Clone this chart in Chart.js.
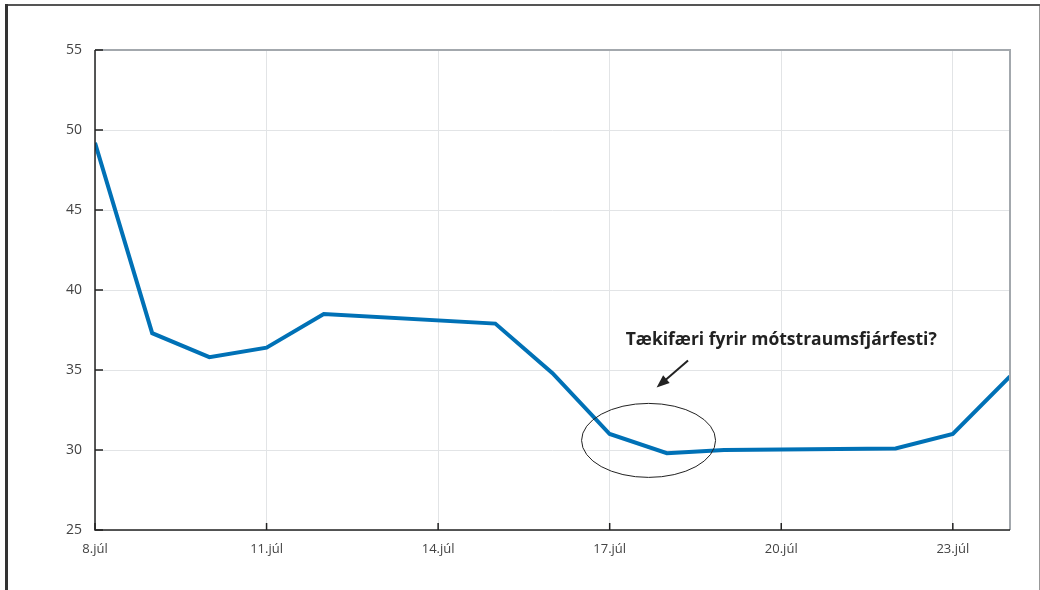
<!DOCTYPE html>
<html>
<head>
<meta charset="utf-8">
<script src="https://cdn.jsdelivr.net/npm/chart.js@4"></script>
<style>
  html, body { margin: 0; padding: 0; background: #fff; }
  #wrap { width: 1040px; height: 590px; position: relative; }
</style>
</head>
<body>
<div id="wrap"><canvas id="chart" width="1040" height="590"></canvas></div>
<script>
const days = [8, 9, 10, 11, 12, 15, 16, 17, 18, 19, 22, 23, 24];
const values = [49.2, 37.3, 35.8, 36.4, 38.5, 37.9, 34.8, 31.0, 29.8, 30.0, 30.1, 31.0, 34.6];
const xTicks = [8, 11, 14, 17, 20, 23];
const xTickLabels = ["8.júl", "11.júl", "14.júl", "17.júl", "20.júl", "23.júl"];
const noteText = "Tækifæri fyrir mótstraumsfjárfesti?";

const extras = {
    id: "extras",
    beforeDraw(chart) {
        const ctx = chart.ctx;
        ctx.save();
        ctx.fillStyle = "#fff";
        ctx.fillRect(0, 0, chart.width, chart.height);
        // outer frame
        ctx.strokeStyle = "#555";
        ctx.lineWidth = 2;
        ctx.beginPath();
        ctx.moveTo(6, 5); ctx.lineTo(1040, 5);
        ctx.stroke();
        ctx.strokeStyle = "#333";
        ctx.lineWidth = 3;
        ctx.beginPath();
        ctx.moveTo(6.5, 4); ctx.lineTo(6.5, 590);
        ctx.stroke();
        ctx.strokeStyle = "#999";
        ctx.lineWidth = 1;
        ctx.beginPath();
        ctx.moveTo(1039.5, 6); ctx.lineTo(1039.5, 590);
        ctx.stroke();
        ctx.restore();
    },
    afterDatasetsDraw(chart) {
        const ctx = chart.ctx;
        const a = chart.chartArea;
        const xs = chart.scales.x, ys = chart.scales.y;
        ctx.save();
        // top and right border of the plot
        ctx.strokeStyle = "#a3a8ad";
        ctx.lineWidth = 2;
        ctx.beginPath();
        ctx.moveTo(a.left, a.top); ctx.lineTo(a.right, a.top); ctx.lineTo(a.right, a.bottom);
        ctx.stroke();
        // axis lines
        ctx.strokeStyle = "#222";
        ctx.lineWidth = 1.5;
        ctx.beginPath();
        ctx.moveTo(a.left, a.top); ctx.lineTo(a.left, a.bottom); ctx.lineTo(a.right, a.bottom);
        ctx.stroke();
        // inward ticks
        ctx.lineWidth = 1.5;
        ctx.beginPath();
        ys.ticks.forEach(t => {
            const py = ys.getPixelForValue(t.value);
            ctx.moveTo(a.left, py); ctx.lineTo(a.left + 8, py);
        });
        xTicks.forEach(v => {
            const px = xs.getPixelForValue(v);
            ctx.moveTo(px, a.bottom); ctx.lineTo(px, a.bottom - 7);
        });
        ctx.stroke();

        // annotation: ellipse, arrow and text
        const cx = xs.getPixelForValue(17.68), cy = ys.getPixelForValue(30.6);
        ctx.strokeStyle = "#222";
        ctx.lineWidth = 1;
        ctx.beginPath();
        ctx.ellipse(cx, cy, 67, 37, 0, 0, Math.PI * 2);
        ctx.stroke();

        const x1 = xs.getPixelForValue(18.37), y1 = ys.getPixelForValue(35.6);
        const x2 = xs.getPixelForValue(17.82), y2 = ys.getPixelForValue(33.9);
        const ang = Math.atan2(y2 - y1, x2 - x1);
        ctx.lineWidth = 2;
        ctx.beginPath();
        ctx.moveTo(x1, y1);
        ctx.lineTo(x2 - 6 * Math.cos(ang), y2 - 6 * Math.sin(ang));
        ctx.stroke();
        ctx.fillStyle = "#222";
        ctx.beginPath();
        ctx.moveTo(x2, y2);
        ctx.lineTo(x2 - 13 * Math.cos(ang) + 5 * Math.sin(ang), y2 - 13 * Math.sin(ang) - 5 * Math.cos(ang));
        ctx.lineTo(x2 - 13 * Math.cos(ang) - 5 * Math.sin(ang), y2 - 13 * Math.sin(ang) + 5 * Math.cos(ang));
        ctx.closePath();
        ctx.fill();

        ctx.font = "bold 17.5px 'Open Sans'";
        ctx.textAlign = "center";
        ctx.textBaseline = "alphabetic";
        ctx.fillStyle = "#222";
        ctx.fillText(noteText, xs.getPixelForValue(20.0), ys.getPixelForValue(35.6) - 15);
        ctx.restore();
    }
};

new Chart(document.getElementById("chart"), {
    type: "line",
    data: {
        datasets: [{
            data: days.map((d, i) => ({ x: d, y: values[i] })),
            borderColor: "#0071b6",
            borderWidth: 4,
            pointRadius: 0,
            tension: 0,
            fill: false
        }]
    },
    options: {
        responsive: false,
        animation: false,
        layout: { padding: { left: 0, right: 30, top: 50, bottom: 10 } },
        plugins: { legend: { display: false }, tooltip: { enabled: false } },
        scales: {
            x: {
                type: "linear",
                min: 8,
                max: 24,
                afterBuildTicks: scale => { scale.ticks = xTicks.map(v => ({ value: v })); },
                afterFit: scale => { scale.height = 50; },
                border: { display: false },
                grid: { color: "#e2e4e6", lineWidth: 1, drawTicks: false },
                ticks: {
                    padding: 11,
                    maxRotation: 0,
                    autoSkip: false,
                    color: "#444",
                    font: { family: "'Open Sans'", size: 13 },
                    callback: v => xTickLabels[xTicks.indexOf(v)]
                }
            },
            y: {
                min: 25,
                max: 55,
                afterFit: scale => { scale.width = 95; },
                border: { display: false },
                grid: { color: "#e2e4e6", lineWidth: 1, drawTicks: false },
                ticks: {
                    stepSize: 5,
                    padding: 13,
                    color: "#444",
                    font: { family: "'Open Sans'", size: 14 }
                }
            }
        }
    },
    plugins: [extras]
});
</script>
</body>
</html>
